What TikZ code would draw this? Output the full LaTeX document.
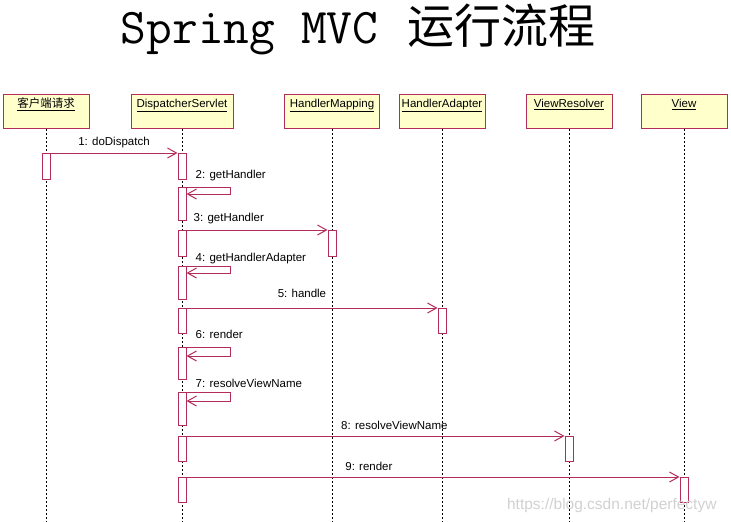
\documentclass[tikz,border=0pt]{standalone}
\usepackage{fontspec}
\setmainfont{Liberation Sans}
\newfontfamily\cjk{Noto Sans CJK SC}
\usetikzlibrary{arrows.meta}
\definecolor{umlred}{RGB}{180,45,90}
\definecolor{umlfill}{RGB}{255,255,204}

\begin{document}
\begin{tikzpicture}[x=1pt,y=-1pt,
    head/.style={draw=umlred,fill=umlfill,line width=1pt,anchor=north,inner xsep=0pt,inner ysep=3pt,text height=10pt,text depth=18pt,font=\fontsize{11.5}{12}\selectfont},
    bar/.style={draw=umlred,fill=white,line width=1pt,anchor=north,inner sep=0pt,minimum width=8pt},
    lifeline/.style={draw,line width=.9pt,dash pattern=on 2pt off 2pt},
    msg/.style={draw=umlred,line width=1pt,-{Straight Barb[length=9pt,width=10pt]}},
    msglabel/.style={inner sep=0pt,font=\fontsize{11.5}{12}\selectfont}]
\useasboundingbox (0,0) rectangle (731,522);

%title
\node[anchor=base,inner sep=0pt,text height=38pt] (title) at (358,43){\fontsize{50}{52}\selectfont\ttfamily Spring MVC {\cjk\fontsize{47}{50}\selectfont\kern3pt 运行流程}};

%objects
\foreach \n/\x/\w/\t in {client/46/86/{\cjk 客户端请求}, ds/182/102/DispatcherServlet, hm/332/95/HandlerMapping, ha/442/86/HandlerAdapter, vr/569/86/ViewResolver, view/684/86/View}{
    \node[head,minimum width=\w] (\n) at (\x,94){\underline{\t}};
}
\foreach \n in {client,ds,hm,ha,vr,view}{
    \path[lifeline] (\n.south) -- (\n.south |- 0,522);
}

%activations
\foreach \n/\l/\t/\h in {c1/client/153/26, d1/ds/153/26, d2/ds/187/33, d3/ds/230/26, m3/hm/230/26, d4/ds/266/33, d5/ds/308/25, a5/ha/308/25, d6/ds/347/32, d7/ds/392/33, d8/ds/436/25, r8/vr/436/25, d9/ds/477/25, v9/view/477/25}{
    \node[bar,minimum height=\h] (\n) at (\l.south |- 0,\t){};
}

%messages
\path[msg] (c1.north east) -- node[msglabel,pos=.5,anchor=base,yshift=8pt]{1: doDispatch} (d1.north west);
\path[msg] (d2.north east) -- ++(44,0) |- ([yshift=-7pt]d2.north east);
\node[msglabel,anchor=base west] at ([shift={(9pt,9pt)}]d2.north east){2: getHandler};
\path[msg] (d3.north east) -- node[msglabel,pos=.3,anchor=base,yshift=9pt]{3: getHandler} (m3.north west);
\path[msg] (d4.north east) -- ++(44,0) |- ([yshift=-7pt]d4.north east);
\node[msglabel,anchor=base west] at ([shift={(9pt,5pt)}]d4.north east){4: getHandlerAdapter};
\path[msg] (d5.north east) -- node[msglabel,pos=.46,anchor=base,yshift=11pt]{5: handle} (a5.north west);
\path[msg] (d6.north east) -- ++(44,0) |- ([yshift=-9pt]d6.north east);
\node[msglabel,anchor=base west] at ([shift={(9pt,9pt)}]d6.north east){6: render};
\path[msg] (d7.north east) -- ++(44,0) |- ([yshift=-9pt]d7.north east);
\node[msglabel,anchor=base west] at ([shift={(9pt,5pt)}]d7.north east){7: resolveViewName};
\path[msg] (d8.north east) -- node[msglabel,pos=.55,anchor=base,yshift=7pt]{8: resolveViewName} (r8.north west);
\path[msg] (d9.north east) -- node[msglabel,pos=.37,anchor=base,yshift=7pt]{9: render} (v9.north west);

%watermark
\node[anchor=base east,text=black!18,font=\fontsize{15.5}{16}\selectfont] (mark) at (720,509){https://blog.csdn.net/perfectyw};

\end{tikzpicture}
\end{document}
